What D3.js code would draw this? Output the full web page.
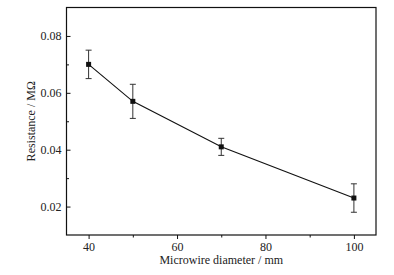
<!DOCTYPE html>
<html>
<head>
<meta charset="utf-8">
<script src="https://cdn.jsdelivr.net/npm/d3@7"></script>
<style>
  html, body { margin: 0; padding: 0; background: #fff; }
  svg, svg text { font-family: "Liberation Serif", "Times New Roman", serif !important; }
  svg { display: block; }
</style>
</head>
<body>
<div id="chart"></div>
<script>
// microwire diameter (mm) vs resistance (MOhm), with error bars
const diameters = [40, 50, 70, 100];
const resistance = [0.070, 0.057, 0.041, 0.023];
const errHigh = [0.075, 0.063, 0.044, 0.028];
const errLow = [0.065, 0.051, 0.038, 0.018];

const xTicks = [40, 60, 80, 100];
const xMinor = [50, 70, 90];
const yTicks = [0.02, 0.04, 0.06, 0.08];
const yMinor = [0.03, 0.05, 0.07];

const W = 394, H = 275;
const margin = { left: 66.5, top: 7.5, right: 18, bottom: 40 };

const svg = d3.select("#chart").append("svg")
    .attr("width", W).attr("height", H);

const x = d3.scaleLinear().domain([35, 105]).range([margin.left, W - margin.right]);
const y = d3.scaleLinear().domain([0.01, 0.09]).range([H - margin.bottom, margin.top]);

// frame
svg.append("rect")
    .attr("x", margin.left).attr("y", margin.top)
    .attr("width", W - margin.right - margin.left)
    .attr("height", H - margin.bottom - margin.top)
    .attr("fill", "none").attr("stroke", "#111").attr("stroke-width", 1.2);

// x axis: ticks pointing down
const gx = svg.append("g").attr("transform", `translate(0,${H - margin.bottom})`);
gx.call(d3.axisBottom(x).tickValues(xTicks).tickSize(4).tickPadding(3).tickFormat(d3.format("d")));
gx.append("g").call(d3.axisBottom(x).tickValues(xMinor).tickSize(2.5).tickFormat(""));
gx.selectAll(".domain").remove();

// y axis: ticks pointing into the plot
const gy = svg.append("g").attr("transform", `translate(${margin.left},0)`);
gy.call(d3.axisLeft(y).tickValues(yTicks).tickSize(-4).tickPadding(5).tickFormat(d3.format(".2f")));
gy.append("g").call(d3.axisLeft(y).tickValues(yMinor).tickSize(-2.5).tickFormat(""));
gy.selectAll(".domain").remove();

svg.selectAll(".tick line").attr("stroke", "#111").attr("stroke-width", 1);
svg.selectAll(".tick text").attr("font-size", 12).attr("fill", "#222");

// axis titles
svg.append("text")
    .attr("x", (margin.left + W - margin.right) / 2).attr("y", 264)
    .attr("text-anchor", "middle").attr("font-size", 12).attr("fill", "#222")
    .text("Microwire diameter / mm");
svg.append("text")
    .attr("transform", `translate(35,${(margin.top + H - margin.bottom) / 2}) rotate(-90)`)
    .attr("text-anchor", "middle").attr("font-size", 12).attr("fill", "#222")
    .text("Resistance / MΩ");

const pts = diameters.map((d, i) => ({ d, r: resistance[i], hi: errHigh[i], lo: errLow[i] }));

// connecting line
svg.append("path").datum(pts)
    .attr("d", d3.line().x(p => x(p.d)).y(p => y(p.r)))
    .attr("fill", "none").attr("stroke", "#111").attr("stroke-width", 1.1);

// error bars
const eb = svg.append("g").attr("stroke", "#333").attr("stroke-width", 1);
pts.forEach(p => {
  eb.append("line").attr("x1", x(p.d)).attr("x2", x(p.d)).attr("y1", y(p.hi)).attr("y2", y(p.lo));
  eb.append("line").attr("x1", x(p.d) - 3).attr("x2", x(p.d) + 3).attr("y1", y(p.hi)).attr("y2", y(p.hi));
  eb.append("line").attr("x1", x(p.d) - 3).attr("x2", x(p.d) + 3).attr("y1", y(p.lo)).attr("y2", y(p.lo));
});

// square markers
svg.append("g").selectAll("rect").data(pts).join("rect")
    .attr("x", p => x(p.d) - 2.5).attr("y", p => y(p.r) - 2.5)
    .attr("width", 5).attr("height", 5).attr("fill", "#111");
</script>
</body>
</html>
